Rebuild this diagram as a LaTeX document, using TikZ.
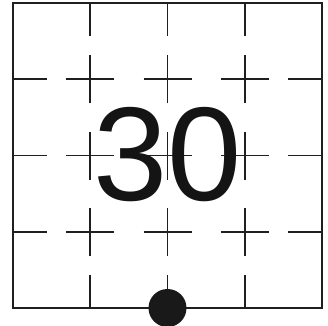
\documentclass[tikz,border=0pt]{standalone}
\usepackage{fontspec}
\setmainfont{Liberation Sans}
\begin{document}
\begin{tikzpicture}[x=1bp,y=1bp,
  gridline/.style={line width=1.8bp,draw=black!88},
  frameline/.style={line width=1.8bp,draw=black!88}]
\useasboundingbox (0,0) rectangle (328,326);
\fill[white] (0,0) rectangle (328,326);
% frame: x 13..322, y (tikz) 18..323
\draw[frameline] (13,18) rectangle (322,323);
% vertical partial lines
\foreach \x in {90.3,167.5,244.8}{
  \draw[gridline] (\x,323) -- (\x,290);
  \foreach \y in {246.6,170.4,94}{
    \draw[gridline] (\x,\y-24) -- (\x,\y+24);
  }
  \draw[gridline] (\x,51) -- (\x,18);
}
% horizontal partial lines
\foreach \y in {246.6,170.4,94}{
  \draw[gridline] (13,\y) -- (47,\y);
  \foreach \x in {90.3,167.5,244.8}{
    \draw[gridline] (\x-24,\y) -- (\x+24,\y);
  }
  \draw[gridline] (288,\y) -- (322,\y);
}
\node[inner sep=0pt,text=black!92] (num) at (167.5,171) {\fontsize{134}{134}\selectfont 30};
\fill[black!90] (167.5,18) circle (19);
\end{tikzpicture}
\end{document}
